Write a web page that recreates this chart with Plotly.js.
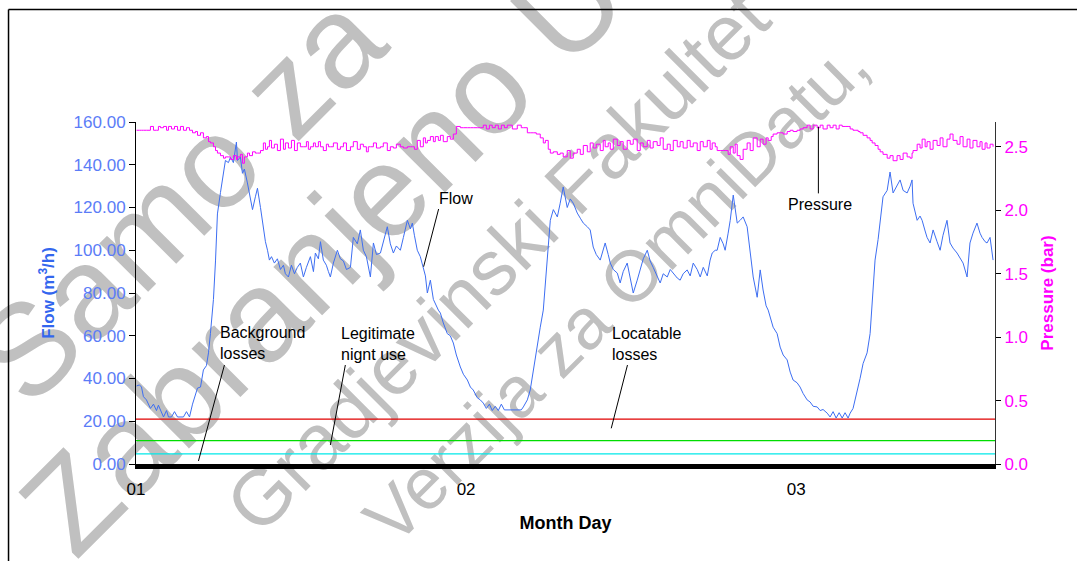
<!DOCTYPE html>
<html>
<head>
<meta charset="utf-8">
<script src="https://cdn.plot.ly/plotly-3.0.1.min.js"></script>
<style>html,body{margin:0;padding:0;background:#fff}#chart{width:1077px;height:561px}</style>
</head>
<body>
<div id="chart"></div>
<script>
// time since start of day 01, in hours
const hours = [
0.04,0.25,0.40,0.54,0.76,1.05,1.27,1.49,1.63,1.78,
2.00,2.22,2.36,2.58,2.80,3.02,3.23,3.45,3.67,3.89,
4.11,4.32,4.47,4.69,4.90,5.12,5.27,5.41,5.63,5.78,
5.92,6.14,6.36,6.50,6.72,6.87,7.08,7.30,7.38,7.59,
7.74,7.88,8.10,8.25,8.47,8.68,8.83,9.05,9.26,9.41,
9.56,9.70,9.85,10.06,10.28,10.50,10.72,10.86,11.08,11.30,
11.52,11.73,11.95,12.17,12.39,12.53,12.68,12.90,13.04,13.26,
13.41,13.62,13.84,13.99,14.13,14.35,14.64,14.86,15.08,15.30,
15.59,15.80,16.09,16.31,16.53,16.75,16.89,17.04,17.26,17.48,
17.77,17.98,18.27,18.49,18.71,18.93,19.22,19.44,19.73,19.95,
20.09,20.24,20.45,20.67,20.89,21.04,21.18,21.40,21.62,21.76,
21.98,22.13,22.34,22.63,22.85,23.07,23.29,23.58,23.80,24.09,
24.31,24.52,24.81,25.03,25.25,25.47,25.69,25.90,26.12,26.34,
26.56,26.78,26.99,27.36,27.72,28.01,28.16,28.45,28.66,28.88,
29.10,29.39,29.61,29.76,29.97,30.12,30.34,30.63,30.84,31.06,
31.35,31.57,31.79,32.08,32.30,32.52,32.81,33.02,33.24,33.46,
33.75,33.97,34.11,34.33,34.48,34.70,34.99,35.20,35.42,35.71,
35.93,36.15,36.44,36.66,36.88,37.17,37.38,37.60,37.89,38.11,
38.33,38.62,38.84,39.06,39.35,39.56,39.78,40.07,40.29,40.51,
40.80,41.02,41.24,41.53,41.74,41.89,42.11,42.25,42.47,42.69,
42.83,43.05,43.20,43.42,43.56,43.71,43.92,44.14,44.43,44.65,
44.87,45.16,45.38,45.59,45.81,45.96,46.18,46.32,46.61,46.83,
47.05,47.34,47.56,47.77,48.06,48.28,48.50,48.79,49.01,49.23,
49.52,49.74,49.95,50.25,50.46,50.68,50.90,51.12,51.34,51.55,
51.77,51.92,52.13,52.28,52.50,52.64,52.86,53.15,53.37,53.52,
53.73,53.95,54.10,54.31,54.61,54.82,55.04,55.33,55.55,55.77,
56.06,56.28,56.42,56.49,56.79,57.00,57.15,57.37,57.51,57.73,
57.95,58.24,58.46,58.67,58.96,59.18,59.40,59.69,59.91,60.13,
60.42,60.63,60.85,61.14,61.36,61.51,61.73,61.87,62.09,62.31
];

// flow, m3/h
const flow = [
36.5,37,36,31.5,30,26,28,25,27.5,25,
22,25,22,22,24.5,22,22,22,24.5,22,
28,33,35.5,36,44,46,52,61,77,95,
117,127,137.5,142,141,143.6,141,150.6,142,143.6,
136,138,131.5,127,119,125,129,120,111,104,
100,95.4,97,94,96,91,93,89,87.5,93,
89,92,94,87.5,92,95,97,90,98.7,96,
104,95.4,93,90,87.5,94,100,96,95,91,
92,106,103,109.5,100,97,92,87.5,103.4,98,
98.7,104,111,103,98.7,102,100,106,114,110,
112.7,107,100,97,92,88,80,86,77,75,
72,70.6,66,61,60,56.6,51,45.4,42,39.3,
36,34.6,31,30,28.5,26,28,25,27,25,
28,25.3,25.3,25.3,25.3,25.3,26.7,30,34.6,44,
52,64,72,85,103.4,114,119,115.6,122,129.6,
120,124,122,117.4,115,112.7,111,109.5,101.5,98,
95.4,100,103.4,98,94,91,89.3,84.7,90,94,
86,80,86,90.8,96,100,95,92,88,84.7,
89,87.5,91,89.3,87,86,89,90.8,88,94,
91,87.5,92,88,95.4,98.7,100,100,106,103,
100,108,114,125.8,118,112.7,114,115.6,111,100,
87.5,78,90.8,81.4,74,72,67,64,61,54.7,
51,48.7,43,39.3,38,36,33,30,29,27,
26.7,25,25.5,23.8,22,24.5,21.5,24,21.5,24,
21.5,23.8,26,30,36,40,47,52,61,76.7,
95.4,105,112.7,125,128,136.6,126.8,130,132.9,128,
126.8,130,132.9,122,114,116,114,109,106,103.4,
109.5,104,100,107,114,103.4,101,98.7,96,94,
87.5,103.4,108,112.7,108,106,104,103.4,106,95.4
];

// pressure, bar
const pressure = [
2.63,2.63,2.63,2.63,2.63,2.66,2.63,2.63,2.66,2.65,
2.66,2.63,2.66,2.64,2.66,2.63,2.66,2.63,2.65,2.63,
2.61,2.62,2.59,2.61,2.57,2.58,2.54,2.53,2.50,2.47,
2.45,2.43,2.41,2.42,2.42,2.40,2.43,2.40,2.42,2.44,
2.37,2.42,2.45,2.43,2.46,2.45,2.45,2.47,2.53,2.48,
2.50,2.55,2.49,2.52,2.47,2.56,2.48,2.53,2.49,2.55,
2.47,2.53,2.50,2.50,2.54,2.48,2.50,2.53,2.50,2.54,
2.50,2.47,2.52,2.50,2.50,2.53,2.48,2.50,2.53,2.47,
2.50,2.54,2.48,2.52,2.50,2.46,2.50,2.50,2.53,2.49,
2.50,2.53,2.47,2.50,2.49,2.52,2.50,2.49,2.50,2.50,
2.50,2.48,2.55,2.50,2.57,2.53,2.55,2.58,2.54,2.58,
2.55,2.59,2.54,2.58,2.56,2.60,2.66,2.65,2.65,2.65,
2.65,2.65,2.65,2.65,2.67,2.64,2.67,2.65,2.67,2.64,
2.67,2.65,2.67,2.64,2.67,2.65,2.65,2.61,2.61,2.61,
2.60,2.57,2.53,2.55,2.48,2.45,2.46,2.44,2.45,2.42,
2.47,2.41,2.45,2.48,2.44,2.51,2.46,2.53,2.49,2.52,
2.47,2.55,2.50,2.53,2.48,2.56,2.51,2.54,2.48,2.55,
2.52,2.56,2.47,2.53,2.50,2.55,2.49,2.54,2.51,2.57,
2.48,2.52,2.47,2.55,2.50,2.54,2.49,2.55,2.50,2.53,
2.47,2.54,2.50,2.55,2.48,2.53,2.50,2.47,2.47,2.47,
2.47,2.44,2.50,2.45,2.52,2.43,2.40,2.48,2.53,2.47,
2.57,2.50,2.56,2.52,2.57,2.55,2.58,2.60,2.61,2.61,
2.60,2.62,2.63,2.62,2.63,2.64,2.65,2.67,2.64,2.67,
2.65,2.67,2.64,2.67,2.65,2.67,2.64,2.67,2.66,2.66,
2.66,2.64,2.63,2.63,2.62,2.61,2.59,2.57,2.55,2.53,
2.51,2.48,2.46,2.44,2.41,2.43,2.39,2.43,2.40,2.45,
2.42,2.41,2.45,2.47,2.52,2.49,2.56,2.50,2.54,2.48,
2.55,2.51,2.57,2.50,2.56,2.60,2.55,2.52,2.58,2.50,
2.56,2.49,2.55,2.50,2.54,2.48,2.53,2.49,2.52,2.50
];

// constant flow levels (m3/h)
const levelNames = ['Locatable losses level', 'Legitimate night use level', 'Background losses level'];
const levelValues = [21.0, 10.9, 4.7];
const levelColors = ['#e00000', '#00dd00', '#00e8e8'];

const timeSpan = [0, 62.45];
const dayTickHours = [0, 24, 48];
const dayTickLabels = ['01', '02', '03'];

// callout labels: text, label anchor (hour, flow), pointer from/to (hour, flow)
const callouts = [
  {text: 'Background<br>losses',      at: [5.99, 56.6],  from: [6.43, 46.3],  to: [4.54, 1.4]},
  {text: 'Legitimate<br>nignt use',   at: [14.79, 56.1], from: [15.22, 46.3], to: [14.13, 8.9]},
  {text: 'Locatable<br>losses',       at: [34.48, 56.1], from: [35.73, 46.3], to: [34.55, 16.7]},
  {text: 'Flow',                      at: [21.91, 124.4], from: [22.0, 119.3], to: [20.91, 92.3]},
  {text: 'Pressure',                  at: [47.27, 121.2], from: [49.61, 126.6], to: [49.61, 157.8]}
];

// watermark rows
const watermarkText = ['Samo za', 'Zabranjeno U', 'Gradjevinski Fakultet', 'Verzija za OmniDatu,'];
const watermarkPos = [[0.040, 0.804], [0.207, 0.646], [0.415, 0.608], [0.553, 0.520]];
const watermarkSize = [130, 130, 78, 72];

const FONT = 'Arial, "Liberation Sans", sans-serif';
const BLUE = '#3d6ef2';
const BLUE_TXT = '#5b7cf7';
const MAGENTA = '#ff00ff';

const traces = [];
levelValues.forEach((v, i) => {
  traces.push({
    x: timeSpan, y: [v, v], type: 'scatter', mode: 'lines', name: levelNames[i],
    line: {color: levelColors[i], width: 1.3}, hoverinfo: 'skip'
  });
});
traces.push({
  x: hours, y: pressure, type: 'scatter', mode: 'lines', name: 'Pressure', yaxis: 'y2',
  line: {color: MAGENTA, width: 1, shape: 'hv'}
});
traces.push({
  x: hours, y: flow, type: 'scatter', mode: 'lines', name: 'Flow',
  line: {color: BLUE, width: 1}
});

const shapes = [];
const annotations = [];
callouts.forEach(c => {
  shapes.push({type: 'line', xref: 'x', yref: 'y', x0: c.from[0], y0: c.from[1], x1: c.to[0], y1: c.to[1],
               line: {color: '#000', width: 1}});
  annotations.push({xref: 'x', yref: 'y', x: c.at[0], y: c.at[1], text: c.text, showarrow: false,
                    xanchor: 'left', yanchor: 'middle', align: 'left',
                    font: {family: FONT, size: 16, color: '#000'}});
});
watermarkText.forEach((t, i) => {
  shapes.push({type: 'rect', xref: 'paper', yref: 'paper', layer: 'below',
               x0: watermarkPos[i][0], x1: watermarkPos[i][0], y0: watermarkPos[i][1], y1: watermarkPos[i][1],
               line: {width: 0}, fillcolor: 'rgba(0,0,0,0)',
               label: {text: t, textangle: -45, textposition: 'middle center',
                       font: {family: FONT, size: watermarkSize[i], color: '#c0c0c0'}}});
});
// outer frame
shapes.push({type: 'line', xref: 'paper', yref: 'paper', x0: -0.1484, x1: -0.1484, y0: -0.3, y1: 1.329,
             line: {color: '#000', width: 1.5}});
shapes.push({type: 'line', xref: 'paper', yref: 'paper', x0: -0.1484, x1: 1.3, y0: 1.329, y1: 1.329,
             line: {color: '#000', width: 1.5}});

const layout = {
  width: 1077, height: 561,
  margin: {l: 136, r: 82, t: 122, b: 97, pad: 0},
  paper_bgcolor: '#ffffff', plot_bgcolor: 'rgba(0,0,0,0)',
  showlegend: false,
  font: {family: FONT, size: 17, color: '#000'},
  xaxis: {
    range: timeSpan, showgrid: false, zeroline: false,
    showline: true, linecolor: '#000', linewidth: 5,
    tickvals: dayTickHours, ticktext: dayTickLabels,
    ticks: 'outside', ticklen: 6, tickcolor: 'rgba(0,0,0,0)',
    tickfont: {family: FONT, size: 17, color: '#000'},
    title: {text: 'Month Day', standoff: 19, font: {family: FONT, size: 18, color: '#000', weight: 'bold'}}
  },
  yaxis: {
    range: [0, 160], dtick: 20, tickformat: '.2f', showgrid: false, zeroline: false,
    showline: true, linecolor: '#000', linewidth: 1,
    ticks: 'outside', ticklen: 6, tickcolor: '#000',
    tickfont: {family: FONT, size: 17, color: BLUE_TXT},
    title: {text: 'Flow (m<sup>3</sup>/h)', standoff: 14, font: {family: FONT, size: 17, color: '#3366ee', weight: 'bold'}}
  },
  yaxis2: {
    overlaying: 'y', side: 'right',
    range: [0, 2.695], dtick: 0.5, tickformat: '.1f', showgrid: false, zeroline: false,
    showline: true, linecolor: '#333', linewidth: 1,
    ticks: 'outside', ticklen: 5, tickcolor: '#000',
    tickfont: {family: FONT, size: 17, color: MAGENTA},
    title: {text: 'Pressure (bar)', standoff: 14, font: {family: FONT, size: 17, color: MAGENTA, weight: 'bold'}}
  },
  shapes: shapes,
  annotations: annotations
};

Plotly.newPlot('chart', traces, layout, {displayModeBar: false, staticPlot: true});
</script>
</body>
</html>
